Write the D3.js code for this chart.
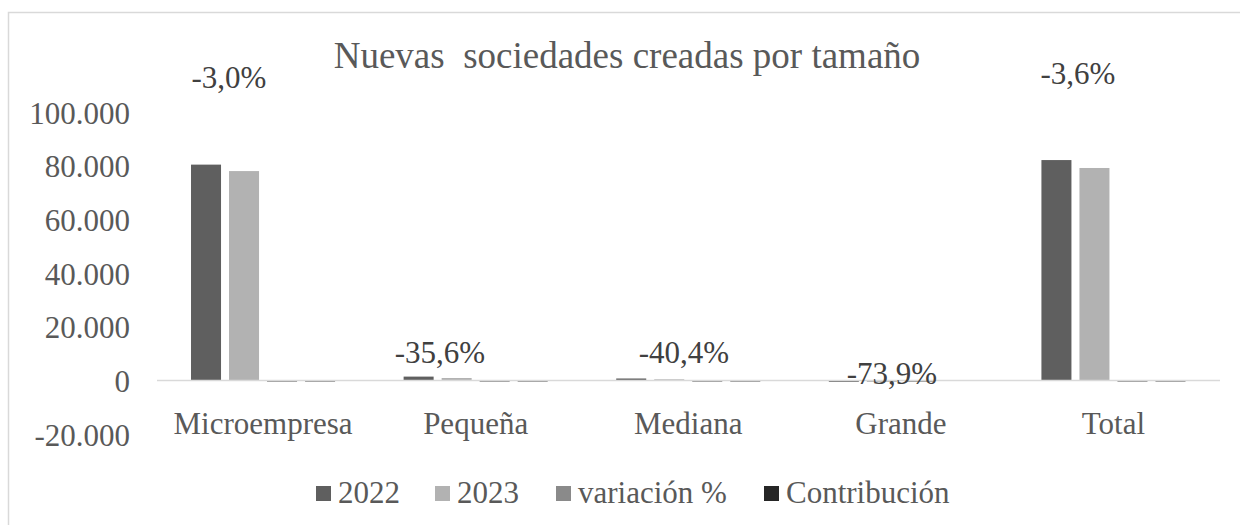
<!DOCTYPE html>
<html>
<head>
<meta charset="utf-8">
<script src="https://cdn.jsdelivr.net/npm/d3@7"></script>
<style>
  body { margin: 0; background: #fff; }
  svg text { font-family: "Liberation Serif", "Times New Roman", serif; fill: #595959; }
</style>
</head>
<body>
<svg id="chart" width="1240" height="525"></svg>
<script>
/* jshint esversion:6 */
const categories = ["Microempresa", "Pequeña", "Mediana", "Grande", "Total"];
const seriesNames = ["2022", "2023", "variación %", "Contribución"];
const values2022 = [80400, 1450, 750, 46, 82100];
const values2023 = [78000, 934, 447, 12, 79150];
const variacion = [-3.0, -35.6, -40.4, -73.9, -3.6];
const contribucion = [-2.9, -0.6, -0.4, -0.0, -3.6];
const varLabels = ["-3,0%", "-35,6%", "-40,4%", "-73,9%", "-3,6%"];
const yTicks = [-20000, 0, 20000, 40000, 60000, 80000, 100000];

const colors = ["#5f5f5f", "#b2b2b2", "#8a8a8a", "#262626"];
// label placement (hand-moved in the original)
const labelPos = [[229, 88], [440, 363], [684, 363], [892, 384], [1078, 84]];

const svg = d3.select("#chart");

// chart frame
svg.append("rect")
  .attr("x", 8.5).attr("y", 12.5)
  .attr("width", 1300).attr("height", 600)
  .attr("fill", "none")
  .attr("stroke", "#d9d9d9")
  .attr("stroke-width", 1.5);

const y = d3.scaleLinear().domain([-20000, 100000]).range([434.2, 112]);

const x = d3.scaleBand()
  .domain(categories)
  .range([157, 1219.5])
  .paddingInner(0.3224)
  .paddingOuter(0.16);

const xSub = d3.scaleBand()
  .domain(seriesNames)
  .range([0, x.bandwidth()])
  .paddingInner(8 / 38);

const rows = categories.map((c, i) => ({
  cat: c,
  vals: [values2022[i], values2023[i], variacion[i], contribucion[i]]
}));

// title
svg.append("text")
  .attr("x", 627).attr("y", 68)
  .attr("text-anchor", "middle")
  .attr("font-size", 37)
  .style("white-space", "pre")
  .text("Nuevas  sociedades creadas por tamaño");

// y axis labels
const yAxis = d3.axisLeft(y).tickValues(yTicks).tickSize(0)
  .tickFormat(d => d3.format(",")(d).replace(/,/g, ".").replace("−", "-"));
const gy = svg.append("g")
  .attr("transform", "translate(133,0)")
  .call(yAxis);
gy.select(".domain").remove();
gy.selectAll("text")
  .attr("font-size", 31)
  .attr("fill", "#595959")
  .attr("dy", "0.36em");

// bars
const groups = svg.append("g").selectAll("g")
  .data(rows)
  .enter()
  .append("g")
  .attr("transform", d => "translate(" + x(d.cat) + ",0)");

groups.selectAll("rect")
  .data(d => d.vals.map((v, j) => ({ v: v, s: seriesNames[j], j: j })))
  .enter()
  .append("rect")
  .attr("x", d => xSub(d.s))
  .attr("width", xSub.bandwidth())
  .attr("y", d => d.v >= 0 ? y(d.v) : y(0))
  .attr("height", d => Math.max(Math.abs(y(d.v) - y(0)), d.v === 0 ? 0 : 1.5))
  .attr("fill", d => d.j >= 2 ? "#999" : colors[d.j]);

// zero line
svg.append("line")
  .attr("x1", 157).attr("x2", 1220)
  .attr("y1", y(0)).attr("y2", y(0))
  .attr("stroke", "#d9d9d9")
  .attr("stroke-width", 1.5);

// category labels
const xAxis = d3.axisBottom(x).tickSize(0);
const gx = svg.append("g")
  .attr("transform", "translate(0,409)")
  .call(xAxis);
gx.select(".domain").remove();
gx.selectAll("text")
  .attr("font-size", 31)
  .attr("fill", "#595959")
  .attr("dy", "0.71em");

// variation labels
svg.append("g").selectAll("text")
  .data(varLabels)
  .enter()
  .append("text")
  .attr("x", (d, i) => labelPos[i][0])
  .attr("y", (d, i) => labelPos[i][1])
  .attr("text-anchor", "middle")
  .attr("font-size", 31)
  .style("fill", "#404040")
  .text(d => d);

// legend
const legendX = [316, 435, 556, 764];
const legend = svg.append("g").selectAll("g")
  .data(seriesNames)
  .enter()
  .append("g")
  .attr("transform", (d, i) => "translate(" + legendX[i] + ",486)");

legend.append("rect")
  .attr("width", 15).attr("height", 15)
  .attr("fill", (d, i) => colors[i]);

legend.append("text")
  .attr("x", 22).attr("y", 17)
  .attr("font-size", 31)
  .text(d => d);
</script>
</body>
</html>
